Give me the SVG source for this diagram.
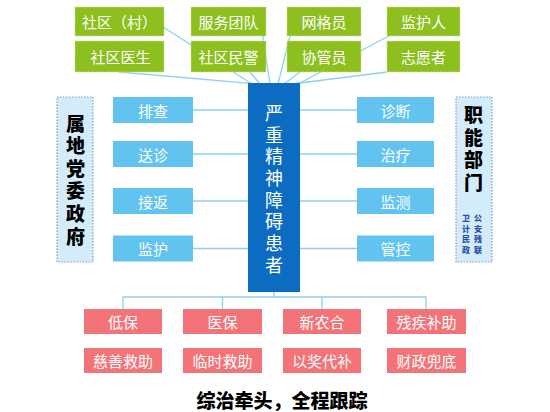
<svg xmlns="http://www.w3.org/2000/svg" width="550" height="412" viewBox="0 0 550 412">
<style>
.g{fill:#8DC01F;stroke:#C9E38C;stroke-width:1;stroke-dasharray:1.5 1.5}
.lb{fill:#62C3F0}
.pk{fill:#F37478}
.tall{fill:#D4ECFA;stroke:#7F9FC4;stroke-width:1.2;stroke-dasharray:1.5 1.5}
.ctr{fill:#0B6CC1}
.t{font-family:"Noto Sans CJK SC","Noto Sans",sans-serif;font-size:15px;fill:#fff;text-anchor:middle;dominant-baseline:central}
.vt{writing-mode:vertical-rl;font-family:"Noto Sans CJK SC","Noto Sans",sans-serif}
.v{font-size:19px;font-weight:900;fill:#000;letter-spacing:3.6px}
.vc{font-size:18px;fill:#fff;letter-spacing:3.7px}
.s{font-size:8px;font-weight:900;fill:#2A4FA8;letter-spacing:2.5px}
.ln{stroke:#8ED0EE;stroke-width:1.3;fill:none}
</style>
<rect width="550" height="412" fill="#fff"/>
<g id="connectors">
<line class="ln" x1="160" y1="25" x2="252" y2="84"/>
<line class="ln" x1="119" y1="72" x2="258" y2="84"/>
<line class="ln" x1="262" y1="30" x2="270" y2="84"/>
<line class="ln" x1="250" y1="72" x2="260" y2="84"/>
<line class="ln" x1="290" y1="36" x2="278" y2="84"/>
<line class="ln" x1="300" y1="72" x2="284" y2="84"/>
<line class="ln" x1="400" y1="30" x2="298" y2="84"/>
<line class="ln" x1="387" y1="72" x2="292" y2="84"/>
<line class="ln" x1="193" y1="110" x2="248" y2="110"/>
<line class="ln" x1="193" y1="154" x2="248" y2="154"/>
<line class="ln" x1="193" y1="201" x2="248" y2="201"/>
<line class="ln" x1="193" y1="248.5" x2="248" y2="248.5"/>
<line class="ln" x1="300" y1="110" x2="357" y2="110"/>
<line class="ln" x1="300" y1="154" x2="357" y2="154"/>
<line class="ln" x1="300" y1="201" x2="357" y2="201"/>
<line class="ln" x1="300" y1="248.5" x2="357" y2="248.5"/>
<polyline class="ln" points="274,292 274,297"/>
<polyline class="ln" points="123,309 123,297 426,297 426,309"/>
<line class="ln" x1="222.5" y1="297" x2="222.5" y2="309"/>
<line class="ln" x1="322" y1="297" x2="322" y2="309"/>
</g>
<g id="n-shequcun"><rect class="g" x="75" y="7" width="89" height="29"/><text class="t" x="119.5" y="21.5">社区（村）</text></g>
<g id="n-fuwutuandui"><rect class="g" x="191" y="7" width="75" height="29"/><text class="t" x="228.5" y="21.5">服务团队</text></g>
<g id="n-wanggeyuan"><rect class="g" x="287" y="7" width="74" height="29"/><text class="t" x="324" y="21.5">网格员</text></g>
<g id="n-jianhuren"><rect class="g" x="387" y="7" width="73" height="29"/><text class="t" x="423.5" y="21.5">监护人</text></g>
<g id="n-shequyisheng"><rect class="g" x="75" y="41" width="89" height="31"/><text class="t" x="120.5" y="56.5">社区医生</text></g>
<g id="n-shequminjing"><rect class="g" x="191" y="41" width="75" height="31"/><text class="t" x="228.5" y="56.5">社区民警</text></g>
<g id="n-xieguanyuan"><rect class="g" x="287" y="41" width="74" height="31"/><text class="t" x="324" y="56.5">协管员</text></g>
<g id="n-zhiyuanzhe"><rect class="g" x="387" y="41" width="73" height="31"/><text class="t" x="423.5" y="56.5">志愿者</text></g>
<g id="n-center"><rect class="ctr" x="248" y="83" width="52" height="209"/>
<text class="vt vc" x="274" y="104">严重精神障碍患者</text></g>
<g id="n-paicha"><rect class="lb" x="113" y="97" width="80" height="26"/><text class="t" x="153" y="110">排查</text></g>
<g id="n-songzhen"><rect class="lb" x="113" y="141" width="80" height="26"/><text class="t" x="153" y="154">送诊</text></g>
<g id="n-jiefan"><rect class="lb" x="113" y="188" width="80" height="26"/><text class="t" x="153" y="201">接返</text></g>
<g id="n-jianhu"><rect class="lb" x="113" y="235.5" width="80" height="26"/><text class="t" x="153" y="248.5">监护</text></g>
<g id="n-zhenduan"><rect class="lb" x="357" y="97" width="77" height="26"/><text class="t" x="395.5" y="110">诊断</text></g>
<g id="n-zhiliao"><rect class="lb" x="357" y="141" width="77" height="26"/><text class="t" x="395.5" y="154">治疗</text></g>
<g id="n-jiance"><rect class="lb" x="357" y="188" width="77" height="26"/><text class="t" x="395.5" y="201">监测</text></g>
<g id="n-guankong"><rect class="lb" x="357" y="235.5" width="77" height="26"/><text class="t" x="395.5" y="248.5">管控</text></g>
<g id="n-left"><rect class="tall" x="57" y="97" width="36" height="165"/>
<text class="vt v" x="75.5" y="113.8">属地党委政府</text></g>
<g id="n-right"><rect class="tall" x="456" y="97" width="36" height="165"/>
<text class="vt v" x="473.5" y="105.5">职能部门</text>
<text class="vt s" x="478" y="214">公安残联</text>
<text class="vt s" x="466" y="214">卫计民政</text></g>
<g id="n-dibao"><rect class="pk" x="84" y="309" width="78" height="25"/><text class="t" x="123" y="321.5">低保</text></g>
<g id="n-yibao"><rect class="pk" x="183" y="309" width="79" height="25"/><text class="t" x="222.5" y="321.5">医保</text></g>
<g id="n-xinnonghe"><rect class="pk" x="283" y="309" width="78" height="25"/><text class="t" x="322" y="321.5">新农合</text></g>
<g id="n-canjibuzhu"><rect class="pk" x="387" y="309" width="79" height="25"/><text class="t" x="426.5" y="321.5">残疾补助</text></g>
<g id="n-cishanjiuzhu"><rect class="pk" x="84" y="348" width="78" height="25"/><text class="t" x="123" y="360.5">慈善救助</text></g>
<g id="n-linshijiuzhu"><rect class="pk" x="183" y="348" width="79" height="25"/><text class="t" x="222.5" y="360.5">临时救助</text></g>
<g id="n-yijiangdaibu"><rect class="pk" x="283" y="348" width="78" height="25"/><text class="t" x="322" y="360.5">以奖代补</text></g>
<g id="n-caizhengdoudi"><rect class="pk" x="387" y="348" width="79" height="25"/><text class="t" x="426.5" y="360.5">财政兜底</text></g>
<text x="282" y="399" style="font-family:'Noto Sans CJK SC','Noto Sans',sans-serif;font-size:19px;font-weight:900;fill:#000;text-anchor:middle;dominant-baseline:central">综治牵头，全程跟踪</text>
</svg>
